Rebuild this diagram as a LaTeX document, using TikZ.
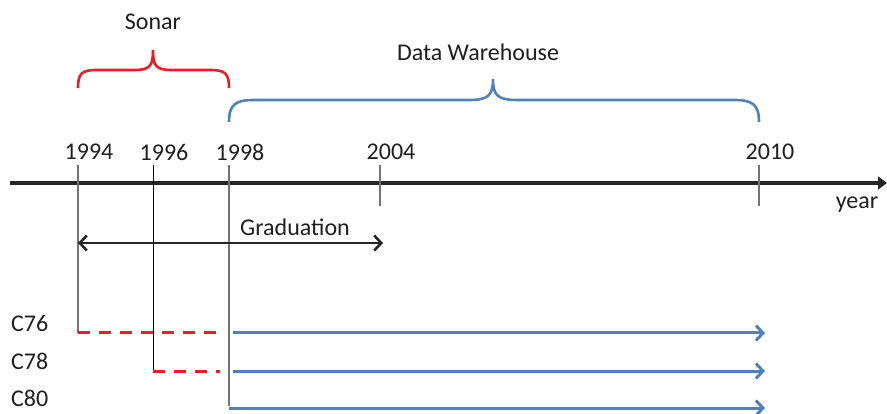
\documentclass[tikz,border=0pt]{standalone}
\usepackage{fontspec}
\setmainfont{Carlito}
\usetikzlibrary{arrows.meta, positioning, calc}
\definecolor{dwblue}{RGB}{79,129,189}
\definecolor{sonarred}{RGB}{236,28,36}

\begin{document}
\begin{tikzpicture}[x=1pt, y=-1pt,
    lbl/.style={font=\fontsize{24}{28}\selectfont, text=black!88, inner sep=1pt},
    brace/.style={line width=2.6pt},
    cohort/.style={->, dwblue, line width=3pt},
    before/.style={sonarred, line width=3pt, dash pattern=on 12pt off 9pt},
    >={Straight Barb[length=7pt, width=15pt]}
  ]
  \useasboundingbox (0,0) rectangle (887,414);

  % time axis
  \coordinate (axL) at (10,183);
  \coordinate (axR) at (887,183);
  \draw[line width=3.2pt, draw=black!85, -{Triangle[length=9pt, width=13pt]}] (axL) -- (axR);
  \node[lbl] (year) at (857,205) {year};

  % years with their ticks
  \foreach \yr/\xx/\yend/\tcol/\tw in {1994/78/333/black!55/1.5pt, 1996/153/371/black/0.9pt,
                                       1998/229/406/black!55/1.5pt, 2004/380/206/black!55/1.3pt,
                                       2010/759/206/black!55/1.3pt} {
    \coordinate (top\yr) at (\xx,165);
    \coordinate (bot\yr) at (\xx,\yend);
    \node[lbl] (y\yr) at (\xx+11,152) {\yr};
    \draw[draw=\tcol, line width=\tw] (top\yr) -- (bot\yr);
  }

  % periods
  \node[lbl] (sonar) at (153,22) {Sonar};
  \draw[brace, sonarred] (78,88) .. controls (78,73) and (82,70) .. (97,70)
    -- (134,70) .. controls (150,70) and (153,66) .. (153,50)
    .. controls (153,66) and (156,70) .. (172,70)
    -- (210,70) .. controls (225,70) and (229,73) .. (229,88);

  \node[lbl] (dw) at (478,52) {Data Warehouse};
  \draw[brace, dwblue] (229,122) .. controls (229,104) and (236,100) .. (254,100)
    -- (468,100) .. controls (488,100) and (493,96) .. (493,79)
    .. controls (493,96) and (498,100) .. (518,100)
    -- (734,100) .. controls (752,100) and (759,104) .. (759,122);

  % graduation
  \node[lbl] (grad) at (295,227) {Graduation};
  \coordinate (gradL) at (78,243);
  \coordinate (gradR) at (383,243);
  \draw[<->, line width=2.6pt, draw=black!85] (gradL) -- (gradR);

  % classes
  \foreach \cls/\yy in {76/333, 78/371, 80/408} {
    \node[lbl, anchor=south west] (c\cls) at (10,\yy) {C\cls};
    \coordinate (s\cls) at (233,\yy);
    \coordinate (e\cls) at (765,\yy);
  }
  \coordinate (s80) at (229,408);
  \coordinate (r76) at (220,333);
  \coordinate (r78) at (220,371);
  \draw[before] (78,333) -- (r76);
  \draw[before] (153,371) -- (r78);
  \draw[cohort] (s76) -- (e76);
  \draw[cohort] (s78) -- (e78);
  \draw[cohort] (s80) -- (e80);
\end{tikzpicture}
\end{document}
